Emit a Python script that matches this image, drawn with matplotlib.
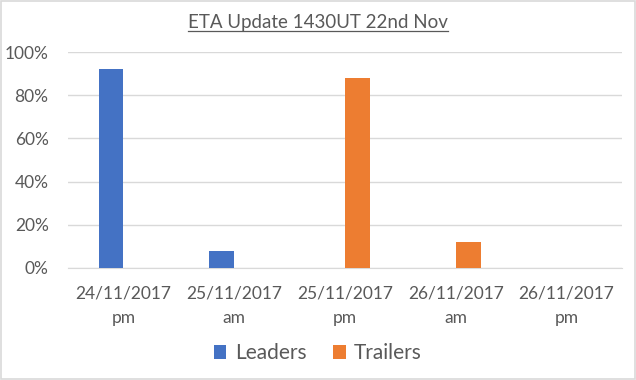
import matplotlib
matplotlib.use("Agg")
import matplotlib.pyplot as plt
import numpy as np
from matplotlib.lines import Line2D
from matplotlib.patches import Rectangle

categories = ["24/11/2017\npm", "25/11/2017\nam", "25/11/2017\npm", "26/11/2017\nam", "26/11/2017\npm"]
leaders = [0.92, 0.08, 0.0, 0.0, 0.0]
trailers = [0.0, 0.0, 0.88, 0.12, 0.0]
yticks = [0, 0.2, 0.4, 0.6, 0.8, 1.0]
ytick_labels = ["0%", "20%", "40%", "60%", "80%", "100%"]

plt.rcParams["font.family"] = ["Lato", "DejaVu Sans"]
text_col = "#595959"

fig = plt.figure(figsize=(6.36, 3.8), dpi=100)
ax = fig.add_axes([0.107, 0.295, 0.871, 0.568])

x = np.arange(len(categories))
w = 0.225
ax.bar(x - w / 2, leaders, w, color="#4472C4", label="Leaders", zorder=3)
ax.bar(x + w / 2, trailers, w, color="#ED7D31", label="Trailers", zorder=3)

ax.set_xlim(-0.5, len(categories) - 0.5)
ax.set_ylim(0, 1.0)
ax.set_yticks(yticks)
ax.set_yticklabels(ytick_labels)
ax.set_xticks(x)
ax.set_xticklabels(categories, linespacing=1.6)
ax.yaxis.grid(True, color="#d9d9d9", lw=1, zorder=0)
for s in ["top", "right", "left"]:
    ax.spines[s].set_visible(False)
ax.spines["bottom"].set_color("#d9d9d9")
ax.tick_params(length=0, colors=text_col, labelsize=12.5)
ax.tick_params(axis="y", pad=14)
ax.tick_params(axis="x", pad=13)

t = fig.text(0.5, 0.94, "ETA Update 1430UT 22nd Nov", ha="center", va="center",
             fontsize=13.5, color=text_col)
fig.canvas.draw()
bb = t.get_window_extent().transformed(fig.transFigure.inverted())
fig.add_artist(Line2D([bb.x0, bb.x1], [bb.y0 + 0.002, bb.y0 + 0.002],
                      transform=fig.transFigure, color=text_col, lw=0.9))

fig.legend(loc="center", bbox_to_anchor=(0.5, 0.07), ncol=2, frameon=False,
           fontsize=15, labelcolor=text_col, handlelength=0.6, handleheight=0.6,
           handletextpad=0.4, columnspacing=1.3)

fig.add_artist(Rectangle((0.0015, 0.002), 0.997, 0.995, transform=fig.transFigure,
                         fill=False, edgecolor="#d9d9d9", lw=1.2))

fig.savefig("out.png", dpi=100)
